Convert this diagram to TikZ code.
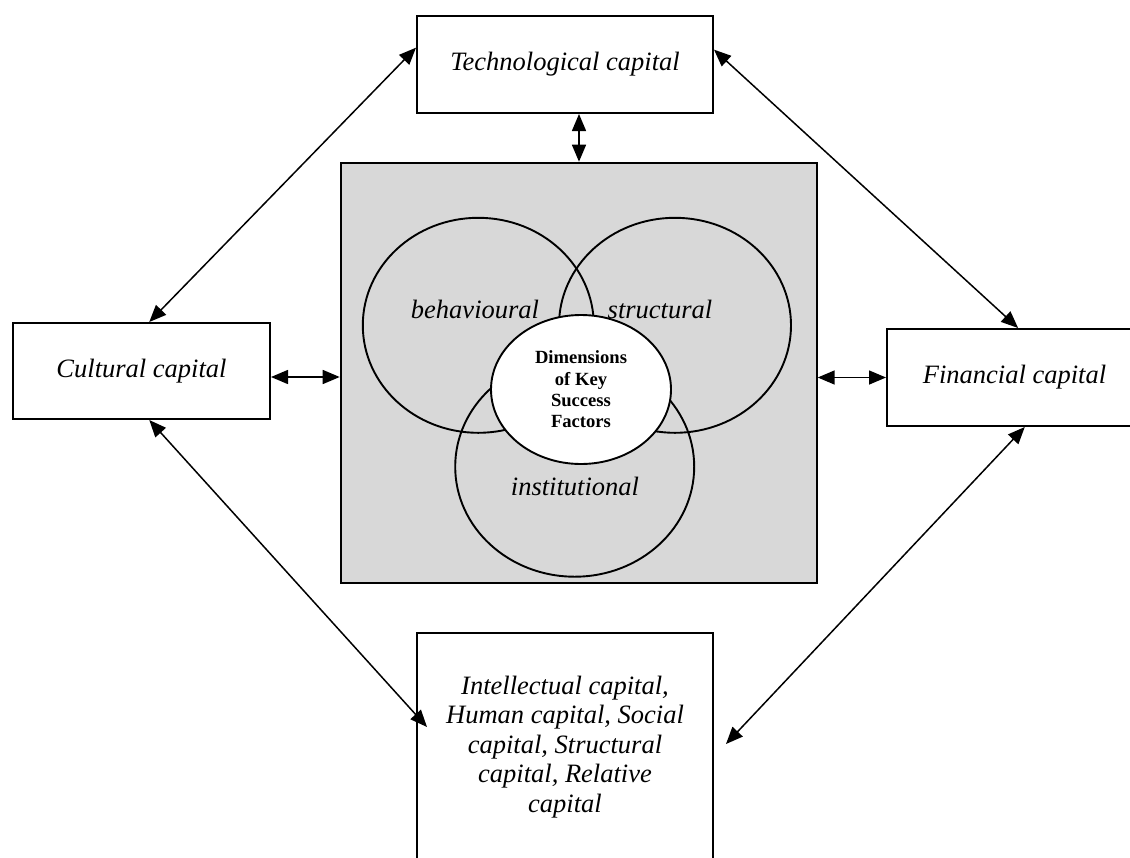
\documentclass[tikz,border=0pt]{standalone}
\usepackage{fontspec}
\setmainfont{Liberation Serif}
\usetikzlibrary{arrows.meta,calc,shapes.geometric}
\definecolor{panelgray}{RGB}{216,216,216}
\tikzset{
  capbox/.style={draw, line width=2pt, rectangle, inner sep=0pt, fill=white,
    font=\fontsize{26.5}{29.5}\selectfont\itshape, align=center},
  ring/.style={draw, line width=1.9pt, ellipse, inner sep=0pt},
  ringlabel/.style={font=\fontsize{26.5}{30}\selectfont\itshape, anchor=base, inner sep=0pt},
  link/.style={line width=1.5pt,
    {Triangle[length=17pt,width=14pt]}-{Triangle[length=17pt,width=14pt]}},
}
\begin{document}
\begin{tikzpicture}[x=1pt,y=-1pt]
\useasboundingbox (0,0) rectangle (1130,857);
\clip (0,0) rectangle (1130,857);

% central panel with the three overlapping dimensions
\node[draw, line width=2pt, fill=panelgray, inner sep=0pt,
      minimum width=476pt, minimum height=420pt] (kbox) at (578.7,372.7) {};
\node[ring, minimum width=231pt, minimum height=215pt] (beh) at (478.3,325.3) {};
\node[ring, minimum width=232pt, minimum height=215pt] (str) at (675,325.3) {};
\node[ring, minimum width=239pt, minimum height=220pt] (ins) at (574.7,466.7) {};
\node[ring, fill=white, minimum width=180pt, minimum height=149pt,
      font=\fontsize{18.6}{21.3}\selectfont\bfseries, align=center] (core) at (581,389.5)
      {Dimensions\\of Key\\Success\\Factors};
\node[ringlabel] (behlbl) at (475,318) {behavioural};
\node[ringlabel] (strlbl) at (660,318) {structural};
\node[ringlabel] (inslbl) at (575,495) {institutional};

% the forms of capital around the panel
\node[capbox, minimum width=296pt, minimum height=97pt] (tech) at (565,64.5) {Technological capital};
\node[capbox, minimum width=257pt, minimum height=96pt] (cult) at (141.5,371) {Cultural capital};
\node[capbox, minimum width=255pt, minimum height=97pt] (fin) at (1014.5,377.5) {Financial capital};
\node[capbox, minimum width=296pt, minimum height=228pt] (intel) at (565,747)
  {Intellectual capital,\\Human capital, Social\\capital, Structural\\capital, Relative\\capital};

% links to the panel
\coordinate (techfoot) at ($(tech.south)+(14,0)$);
\draw[link] (techfoot) -- (kbox.north -| techfoot);
\coordinate (cultside) at ($(cult.east)+(0,6)$);
\draw[link] (cultside) -- (kbox.west |- cultside);
\draw[link] (kbox.east |- fin.west) -- (fin.west);

% links between the forms of capital
\draw[link] ($(tech.north west)!0.33!(tech.south west)$) -- ($(cult.north west)!0.53!(cult.north east)$);
\draw[link] ($(tech.north east)!0.35!(tech.south east)$) -- ($(fin.north west)!0.514!(fin.north east)$);
\draw[link] ($(cult.south west)!0.53!(cult.south east)$) -- ($(intel.north west)+(11,95)$);
\draw[link] ($(fin.south west)!0.54!(fin.south east)$) -- ($(intel.north east)+(12,112)$);
\end{tikzpicture}
\end{document}
